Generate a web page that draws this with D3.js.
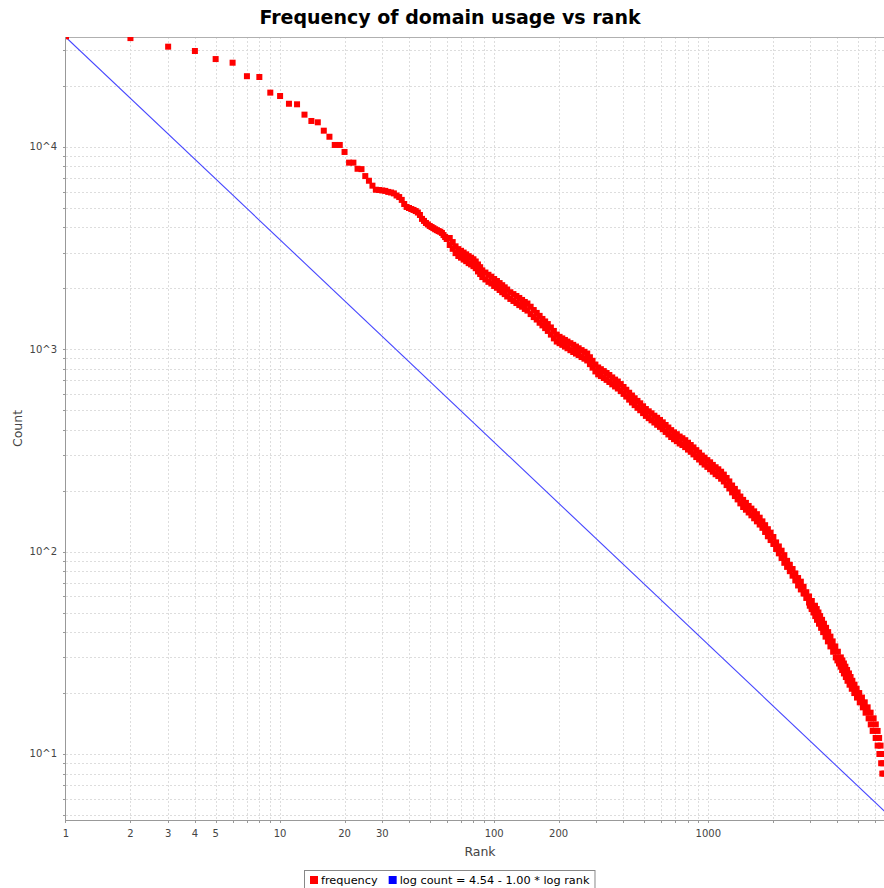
<!DOCTYPE html>
<html>
  <head>
    <meta charset="utf-8" />
    <title>Frequency of domain usage vs rank</title>
    <style>
      html,
      body {
        margin: 0;
        padding: 0;
        background-color: white;
        overflow: hidden;
      }
      svg {
        display: block;
        font-family: "DejaVu Sans", sans-serif;
      }
      .tickLabel {
        font-size: 10px;
        fill: #444444;
      }
      .axisLabel {
        font-size: 12.5px;
        fill: #444444;
      }
      .legendText {
        font-size: 11.3px;
        fill: black;
      }
    </style>
  </head>

  <body>
    <script src="https://d3js.org/d3.v7.min.js"></script>
    <script>
      // counts for ranks 1..60, one value per rank
      var headCounts = [35100, 34400, 31200, 29700, 27100, 26000, 22300, 22100, 18500, 17800,
        16300, 16200, 14400, 13400, 13200, 12000, 11200, 10200, 10200, 9420,
        8340, 8340, 7780, 7750, 7160, 6790, 6420, 6130, 6110, 6080,
        6050, 5980, 5940, 5880, 5740, 5640, 5460, 5210, 5040, 4980,
        4920, 4870, 4810, 4730, 4600, 4400, 4300, 4200, 4130, 4060,
        4010, 3960, 3910, 3870, 3830, 3800, 3750, 3660, 3580, 3500];

      // dense part: upper and lower edge of the band of squares
      var bandRanks = [62, 64, 66, 68, 70, 72, 74, 76, 78, 80,
        82, 84, 86, 88, 91, 94, 97, 100, 103, 106,
        109, 112, 115, 119, 123, 127, 131, 135, 139, 143,
        148, 153, 158, 163, 168, 173, 178, 184, 190, 196,
        202, 208, 214, 220, 227, 234, 241, 248, 256, 264,
        272, 280, 288, 297, 306, 315, 325, 335, 345, 356,
        367, 378, 390, 402, 414, 427, 440, 453, 467, 481,
        496, 511, 527, 543, 560, 577, 595, 613, 632, 651,
        671, 692, 713, 735, 757, 780, 804, 828, 853, 879,
        906, 933, 961, 990, 1020, 1050, 1082, 1114, 1148, 1182,
        1218, 1254, 1292, 1331, 1371, 1412, 1455, 1499, 1544, 1590,
        1638, 1687, 1738, 1790, 1843, 1898, 1955, 2014, 2074, 2136,
        2200, 2266, 2334, 2404, 2476, 2550, 2627, 2706, 2787, 2870,
        2956, 3045];
      var bandHigh = [3540, 3380, 3220, 3120, 3060, 3000, 2940, 2880, 2830, 2780,
        2710, 2620, 2540, 2450, 2390, 2330, 2280, 2220, 2170, 2120,
        2070, 2020, 1970, 1910, 1870, 1830, 1790, 1750, 1710, 1680,
        1620, 1560, 1510, 1460, 1410, 1370, 1330, 1280, 1230, 1180,
        1150, 1130, 1110, 1090, 1070, 1050, 1030, 1010, 989, 970,
        951, 912, 876, 839, 812, 796, 779, 762, 745, 725,
        707, 692, 672, 650, 630, 609, 590, 572, 555, 540,
        522, 506, 493, 482, 469, 458, 447, 435, 422, 410,
        398, 388, 380, 370, 363, 355, 345, 336, 327, 317,
        308, 298, 291, 283, 276, 268, 261, 255, 248, 240,
        231, 222, 212, 204, 196, 187, 180, 174, 168, 163,
        158, 153, 147, 141, 135, 129, 124, 118, 111, 106,
        101, 96, 90, 86, 82, 78, 74, 71, 67, 63,
        60, 57];
      var bandLow = [3270, 3130, 2980, 2885, 2830, 2770, 2720, 2660, 2620, 2570,
        2510, 2420, 2350, 2270, 2210, 2150, 2110, 2050, 2010, 1960,
        1910, 1870, 1820, 1770, 1730, 1690, 1650, 1620, 1580, 1550,
        1490, 1440, 1400, 1350, 1310, 1270, 1230, 1180, 1130, 1090,
        1070, 1050, 1030, 1010, 988, 968, 951, 934, 914, 897,
        879, 843, 810, 776, 751, 736, 720, 705, 688, 670,
        654, 639, 621, 601, 583, 563, 545, 529, 513, 499,
        483, 468, 456, 445, 434, 423, 413, 402, 390, 379,
        368, 359, 351, 342, 336, 328, 319, 311, 302, 293,
        285, 276, 269, 262, 255, 248, 241, 236, 229, 222,
        213, 205, 196, 188, 181, 173, 166, 161, 156, 151,
        146, 141, 136, 131, 125, 119, 114, 109, 103, 98,
        93, 88, 84, 80, 76, 72, 68, 65, 62, 59,
        56, 53];

      // tail: integer counts, first and last rank seen with that count
      var tailCounts = [54, 52, 50, 48, 46, 44, 42, 40, 38, 36,
        34, 32, 30, 29, 28, 27, 26, 25, 24, 23,
        22, 21, 20, 19, 18, 17, 16, 15, 14, 13,
        12, 11, 10, 9, 8];
      var tailRankFrom = [2980, 3040, 3100, 3160, 3220, 3290, 3365, 3440, 3530, 3620,
        3720, 3830, 3940, 4010, 4080, 4150, 4220, 4300, 4390, 4470,
        4570, 4680, 4810, 4950, 5100, 5270, 5430, 5610, 5740, 5860,
        6050, 6180, 6300, 6420, 6500];
      var tailRankTo = [3150, 3210, 3270, 3330, 3400, 3470, 3550, 3630, 3720, 3810,
        3920, 4030, 4160, 4230, 4300, 4370, 4450, 4540, 4620, 4710,
        4820, 4930, 5070, 5220, 5380, 5550, 5730, 5920, 6060, 6180,
        6280, 6380, 6480, 6570, 6650];

      // fitted line: log count = 4.54 - 1.00 * log rank
      var fitIntercept = 4.54;
      var fitSlope = -1.0;
      var fitRanks = [1, 7370];

      var xTickLabels = [1, 2, 3, 4, 5, 10, 20, 30, 100, 200, 1000];
      var yTickLabels = [10, 100, 1000, 10000];

      var w = 884;
      var h = 888;
      var plotLeft = 66, plotRight = 894, plotTop = 37, plotBottom = 820;

      var svg = d3.select("body")
        .append("svg")
        .attr("width", w)
        .attr("height", h);

      var x = d3.scaleLog().domain([1, 7370]).range([plotLeft, plotRight]);
      var y = d3.scaleLog().domain([4.72, 34830]).range([plotBottom, plotTop]);

      function crisp(v) { return Math.round(v) + 0.5; }

      // title
      svg.append("text")
        .attr("x", 450)
        .attr("y", 24)
        .attr("text-anchor", "middle")
        .style("font-size", "19px")
        .style("font-weight", "bold")
        .text("Frequency of domain usage vs rank");

      // grid
      var xTicks = x.ticks().filter(function(d) { return d > 1; });
      var yTicks = y.ticks();

      svg.append("g").selectAll("line")
        .data(xTicks)
        .enter()
        .append("line")
        .attr("x1", function(d) { return crisp(x(d)); })
        .attr("x2", function(d) { return crisp(x(d)); })
        .attr("y1", plotTop)
        .attr("y2", plotBottom)
        .attr("stroke", "#dddddd")
        .attr("stroke-dasharray", "2,2");

      svg.append("g").selectAll("line")
        .data(yTicks)
        .enter()
        .append("line")
        .attr("x1", plotLeft)
        .attr("x2", plotRight)
        .attr("y1", function(d) { return crisp(y(d)); })
        .attr("y2", function(d) { return crisp(y(d)); })
        .attr("stroke", "#dddddd")
        .attr("stroke-dasharray", "2,2");

      // plot outline and axes
      svg.append("line")
        .attr("x1", plotLeft).attr("x2", plotRight)
        .attr("y1", plotTop + 0.5).attr("y2", plotTop + 0.5)
        .attr("stroke", "#b0b0b0");
      svg.append("line")
        .attr("x1", plotLeft - 0.5).attr("x2", plotLeft - 0.5)
        .attr("y1", plotTop).attr("y2", plotBottom + 1)
        .attr("stroke", "#999999");
      svg.append("line")
        .attr("x1", plotLeft - 1).attr("x2", plotRight)
        .attr("y1", plotBottom + 0.5).attr("y2", plotBottom + 0.5)
        .attr("stroke", "#999999");

      // tick marks
      svg.append("g").selectAll("line")
        .data([1].concat(xTicks))
        .enter()
        .append("line")
        .attr("x1", function(d) { return crisp(x(d)) - (d === 1 ? 1 : 0); })
        .attr("x2", function(d) { return crisp(x(d)) - (d === 1 ? 1 : 0); })
        .attr("y1", plotBottom + 1)
        .attr("y2", plotBottom + 3)
        .attr("stroke", "#999999");

      svg.append("g").selectAll("line")
        .data(yTicks)
        .enter()
        .append("line")
        .attr("x1", plotLeft - 3)
        .attr("x2", plotLeft - 1)
        .attr("y1", function(d) { return crisp(y(d)); })
        .attr("y2", function(d) { return crisp(y(d)); })
        .attr("stroke", "#999999");

      // tick labels
      svg.append("g").selectAll("text")
        .data(xTickLabels)
        .enter()
        .append("text")
        .attr("class", "tickLabel")
        .attr("x", function(d) { return x(d); })
        .attr("y", 837)
        .attr("text-anchor", "middle")
        .text(function(d) { return d; });

      svg.append("g").selectAll("text")
        .data(yTickLabels)
        .enter()
        .append("text")
        .attr("class", "tickLabel")
        .attr("x", 57)
        .attr("y", function(d) { return y(d) + 3.5; })
        .attr("text-anchor", "end")
        .text(function(d) { return "10^" + Math.round(Math.log10(d)); });

      // axis labels
      svg.append("text")
        .attr("class", "axisLabel")
        .attr("x", 480)
        .attr("y", 856)
        .attr("text-anchor", "middle")
        .text("Rank");

      svg.append("text")
        .attr("class", "axisLabel")
        .attr("transform", "translate(22," + ((plotTop + plotBottom) / 2) + ") rotate(-90)")
        .attr("text-anchor", "middle")
        .text("Count");

      // data area
      svg.append("clipPath")
        .attr("id", "plotClip")
        .append("rect")
        .attr("x", plotLeft)
        .attr("y", plotTop)
        .attr("width", plotRight - plotLeft)
        .attr("height", plotBottom - plotTop);

      var dataG = svg.append("g").attr("clip-path", "url(#plotClip)");

      var points = headCounts.map(function(c, i) { return { rank: i + 1, count: c }; });
      bandRanks.forEach(function(r, i) {
        points.push({ rank: r, count: bandHigh[i] });
        points.push({ rank: r, count: bandLow[i] });
      });
      tailCounts.forEach(function(c, i) {
        points.push({ rank: tailRankFrom[i], count: c });
        points.push({ rank: tailRankTo[i], count: c });
      });

      var line = d3.line()
        .x(function(d) { return x(d); })
        .y(function(d) { return y(Math.pow(10, fitIntercept + fitSlope * Math.log10(d))); });

      dataG.append("path")
        .datum(fitRanks)
        .attr("d", line)
        .attr("fill", "none")
        .attr("stroke", "#4646ff")
        .attr("stroke-width", 1.1);

      dataG.selectAll(".freq")
        .data(points)
        .enter()
        .append("rect")
        .attr("class", "freq")
        .attr("x", function(d) { return x(d.rank) - 3; })
        .attr("y", function(d) { return y(d.count) - 3; })
        .attr("width", 6)
        .attr("height", 6)
        .attr("fill", "#ff0000");

      // legend
      var legendItems = [
        { label: "frequency", color: "#ff0000" },
        { label: "log count = 4.54 - 1.00 * log rank", color: "#0000ff" }
      ];

      var legend = svg.append("g");
      var legendBox = legend.append("rect")
        .attr("fill", "white")
        .attr("stroke", "#888888");

      var cursor = 0;
      legendItems.forEach(function(item, i) {
        legend.append("rect")
          .attr("x", cursor)
          .attr("y", 876)
          .attr("width", 8)
          .attr("height", 8)
          .attr("fill", item.color);
        var t = legend.append("text")
          .attr("class", "legendText")
          .attr("x", cursor + 11)
          .attr("y", 884)
          .text(item.label);
        cursor += 11 + t.node().getComputedTextLength() + (i < legendItems.length - 1 ? 11 : 0);
      });

      var boxW = cursor + 12;
      var boxX = Math.round(450 - boxW / 2);
      legend.attr("transform", "translate(" + (boxX + 6) + ",0)");
      legendBox
        .attr("x", -5.5)
        .attr("y", 870.5)
        .attr("width", boxW - 1)
        .attr("height", 24);
    </script>
  </body>
</html>
